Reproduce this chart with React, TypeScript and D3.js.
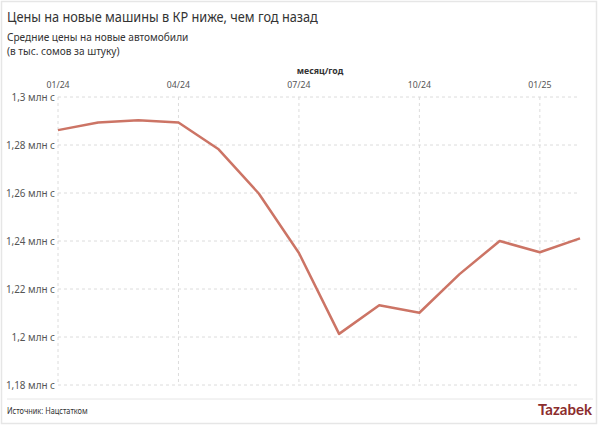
import React from "react";
import * as d3 from "d3";

const months = ["01/24","02/24","03/24","04/24","05/24","06/24","07/24","08/24","09/24","10/24","11/24","12/24","01/25","02/25"];
const prices = [1.2862, 1.2894, 1.2903, 1.2894, 1.2782, 1.2598, 1.235, 1.2013, 1.2132, 1.2101, 1.2262, 1.2400, 1.2353, 1.2411];
const yTicks = [1.18, 1.2, 1.22, 1.24, 1.26, 1.28, 1.3];
const xTickIdx = [0, 3, 6, 9, 12];

const W = 600, H = 426;
const FONT = "'Noto Sans', 'Open Sans', sans-serif";

function T(props: { x: number; y: number; sx?: number; children: React.ReactNode; [k: string]: any }) {
  const { x, y, sx = 0.88, children, ...rest } = props;
  return (
    <text transform={`translate(${x},${y}) scale(${sx},1)`} {...rest}>{children}</text>
  );
}

export default function App() {
  const x = d3.scaleLinear().domain([0, months.length - 1]).range([58, 580]);
  const y = d3.scaleLinear().domain([1.18, 1.3]).range([385, 97]);
  const loc = d3.formatLocale({ decimal: ",", thousands: " ", grouping: [3], currency: ["", ""] });
  const fmt = loc.format("~g");
  const line = d3.line<number>().x((_, i) => x(i)).y(d => y(d));

  return (
    <svg width={W} height={H} style={{ position: "absolute", left: 0, top: 0, background: "#fff" }} fontFamily={FONT}>
      <rect x={1.5} y={1.5} width={W - 5} height={H - 4} fill="#fff" stroke="#e6e6e6" strokeWidth={1.5} />
      <T x={7} y={22} sx={0.85} fontSize={15} fill="#333">Цены на новые машины в КР ниже, чем год назад</T>
      <T x={7} y={41} sx={0.92} fontSize={11} fill="#333">Средние цены на новые автомобили</T>
      <T x={7} y={55} sx={0.92} fontSize={11} fill="#333">(в тыс. сомов за штуку)</T>
      <T x={320} y={74} sx={0.92} fontSize={9.5} fontWeight="bold" fill="#333" textAnchor="middle">месяц/год</T>

      {yTicks.map(t => (
        <g key={t}>
          <line x1={x(0)} x2={x(months.length - 1)} y1={y(t)} y2={y(t)} stroke="#dcdcdc" strokeDasharray="3,3" />
          <T x={55} y={y(t) + 4} sx={0.9} fontSize={11} fill="#555" textAnchor="end">{fmt(t)} млн с</T>
        </g>
      ))}
      {xTickIdx.map(i => (
        <g key={i}>
          <line x1={x(i)} x2={x(i)} y1={y(1.3)} y2={y(1.18)} stroke="#dcdcdc" strokeDasharray="3,3" />
          <T x={x(i)} y={88} sx={0.92} fontSize={9.5} fill="#555" textAnchor="middle">{months[i]}</T>
        </g>
      ))}

      <path d={line(prices) || ""} fill="none" stroke="#cc7465" strokeWidth={2.5} strokeLinejoin="round" />

      <line x1={7} x2={593} y1={399} y2={399} stroke="#e6e6e6" />
      <T x={7} y={414} sx={0.87} fontSize={8.5} fill="#333">Источник: Нацстатком</T>
      <text x={592} y={415} fontSize={15} fill="#8c2d2d" textAnchor="end" fontFamily="'Lato', sans-serif" fontWeight="bold">Tazabek</text>
    </svg>
  );
}
